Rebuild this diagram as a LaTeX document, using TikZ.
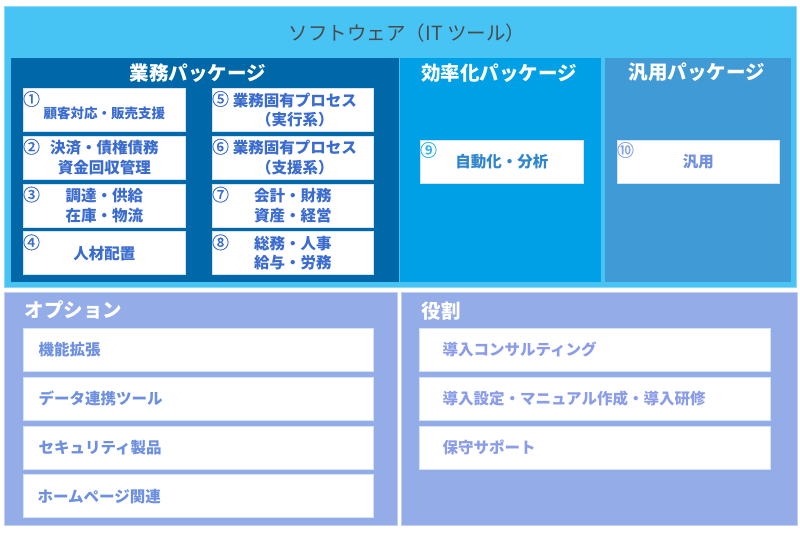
\documentclass[tikz,border=0pt]{standalone}
\usepackage{fontspec}
\setmainfont{Noto Sans CJK JP}
\usetikzlibrary{positioning}

\definecolor{softblue}{HTML}{48C4F4}
\definecolor{softedge}{HTML}{8CDAF8}
\definecolor{bizblue}{HTML}{0067A8}
\definecolor{effblue}{HTML}{00A0E6}
\definecolor{genblue}{HTML}{409AD6}
\definecolor{optblue}{HTML}{94ACE8}
\definecolor{optedge}{HTML}{C4D0F2}
\definecolor{boxedge}{HTML}{D4E2F6}
\definecolor{itemblue}{HTML}{3A6CD0}
\definecolor{effitem}{HTML}{2F86CF}
\definecolor{genitem}{HTML}{6E8EE0}
\definecolor{optitem}{HTML}{6E90E0}
\definecolor{roleitem}{HTML}{8A9CEA}
\definecolor{titlegray}{HTML}{4A4A4A}

\begin{document}
\begin{tikzpicture}[
    x=1pt, y=-1pt,
    panel/.style={rectangle, anchor=north west, inner sep=0pt, line width=0.8pt},
    itembox/.style={rectangle, anchor=north west, fill=white, draw=boxedge, line width=0.8pt, inner sep=0pt, minimum width=162pt, minimum height=43pt},
    listbox/.style={itembox, minimum width=350pt},
    itemtext/.style={font=\fontsize{15.5}{19.5}\selectfont\bfseries, text=itemblue, align=center},
    listtext/.style={font=\fontsize{15.5}{17}\selectfont\bfseries, anchor=west},
    numtext/.style={font=\fontsize{17}{17}\selectfont\addfontfeatures{FakeBold=0.8}, text=itemblue, inner sep=0pt},
    header/.style={font=\fontsize{19.5}{21}\selectfont\bfseries, text=white}
]
\useasboundingbox (0,0) rectangle (800,534);

% Panels
\node[panel, fill=softblue, draw=softedge, minimum width=792pt, minimum height=281pt] (software) at (4,6) {};
\node[panel, fill=bizblue, draw=bizblue, minimum width=387pt, minimum height=223pt] (business) at (11,58) {};
\node[panel, fill=effblue, draw=effblue, minimum width=200pt, minimum height=223pt] (efficiency) at (400,58) {};
\node[panel, fill=genblue, draw=genblue, minimum width=185pt, minimum height=223pt] (general) at (605,58) {};
\node[panel, fill=optblue, draw=optedge, minimum width=393pt, minimum height=233pt] (option) at (4,292) {};
\node[panel, fill=optblue, draw=optedge, minimum width=396pt, minimum height=233pt] (role) at (401,292) {};

% Titles
\node[font=\fontsize{19.5}{21}\selectfont, text=titlegray] (softTitle) at (407,33) {ソフトウェア（IT ツール）};
\node[header] (bizTitle) at (198,73) {業務パッケージ};
\node[header] (effTitle) at (499,73) {効率化パッケージ};
\node[header] (genTitle) at (697,72) {汎用パッケージ};
\node[header, anchor=west] (optTitle) at (21,310) {オプション};
\node[header, anchor=west] (roleTitle) at (418,311) {役割};

% Business boxes
\node[itembox]                       (b1) at (23,88)  {};
\node[itembox, below=4pt of b1]      (b2) {};
\node[itembox, below=4pt of b2]      (b3) {};
\node[itembox, below=4pt of b3]      (b4) {};
\node[itembox, minimum width=161pt]  (b5) at (212,88) {};
\node[itembox, minimum width=161pt, below=4pt of b5] (b6) {};
\node[itembox, minimum width=161pt, below=4pt of b6] (b7) {};
\node[itembox, minimum width=161pt, below=4pt of b7] (b8) {};
\node[itembox, minimum width=163pt]  (b9) at (420,140) {};
\node[itembox, minimum width=162pt]  (b10) at (617,140) {};

\node[itemtext, font=\fontsize{13.5}{15}\selectfont\bfseries] at ([yshift=-3.5pt]b1.center) {顧客対応・販売支援};
\node[itemtext] at (b2.center) {決済・債権債務\\資金回収管理};
\node[itemtext] at (b3.center) {調達・供給\\在庫・物流};
\node[itemtext] at (b4.center) {人材配置};
\node[itemtext] at ([xshift=2pt]b5.center) {業務固有プロセス\\（実行系）};
\node[itemtext] at ([xshift=2pt]b6.center) {業務固有プロセス\\（支援系）};
\node[itemtext] at (b7.center) {会計・財務\\資産・経営};
\node[itemtext] at (b8.center) {総務・人事\\給与・労務};
\node[itemtext, text=effitem] at (b9.center) {自動化・分析};
\node[itemtext, text=genitem] at (b10.center) {汎用};

% Numbers
\foreach \b/\n in {b1/①, b2/②, b3/③, b4/④, b5/⑤, b6/⑥, b7/⑦, b8/⑧}
    \node[numtext] at ([xshift=8.5pt, yshift=-11pt]\b.north west) {\n};
\node[numtext, text=effblue!80!white] at ([xshift=8.5pt, yshift=-10pt]b9.north west) {⑨};
\node[numtext, text=genitem!80!white] at ([xshift=8.5pt, yshift=-10pt]b10.north west) {⑩};

% Option boxes
\node[listbox]                   (o1) at (23,328) {};
\node[listbox, below=5pt of o1]  (o2) {};
\node[listbox, below=5pt of o2]  (o3) {};
\node[listbox, below=5pt of o3]  (o4) {};
\node[listtext, text=optitem] at ([xshift=12pt]o1.west) {機能拡張};
\node[listtext, text=optitem] at ([xshift=12pt]o2.west) {データ連携ツール};
\node[listtext, text=optitem] at ([xshift=12pt]o3.west) {セキュリティ製品};
\node[listtext, text=optitem] at ([xshift=11pt]o4.west) {ホームページ関連};

% Role boxes
\node[listbox, minimum width=351pt]                  (r1) at (419,328) {};
\node[listbox, minimum width=351pt, below=5pt of r1] (r2) {};
\node[listbox, minimum width=351pt, below=5pt of r2] (r3) {};
\node[listtext, text=roleitem] at ([xshift=20pt]r1.west) {導入コンサルティング};
\node[listtext, text=roleitem] at ([xshift=20pt]r2.west) {導入設定・マニュアル作成・導入研修};
\node[listtext, text=roleitem] at ([xshift=20pt]r3.west) {保守サポート};

\end{tikzpicture}
\end{document}
